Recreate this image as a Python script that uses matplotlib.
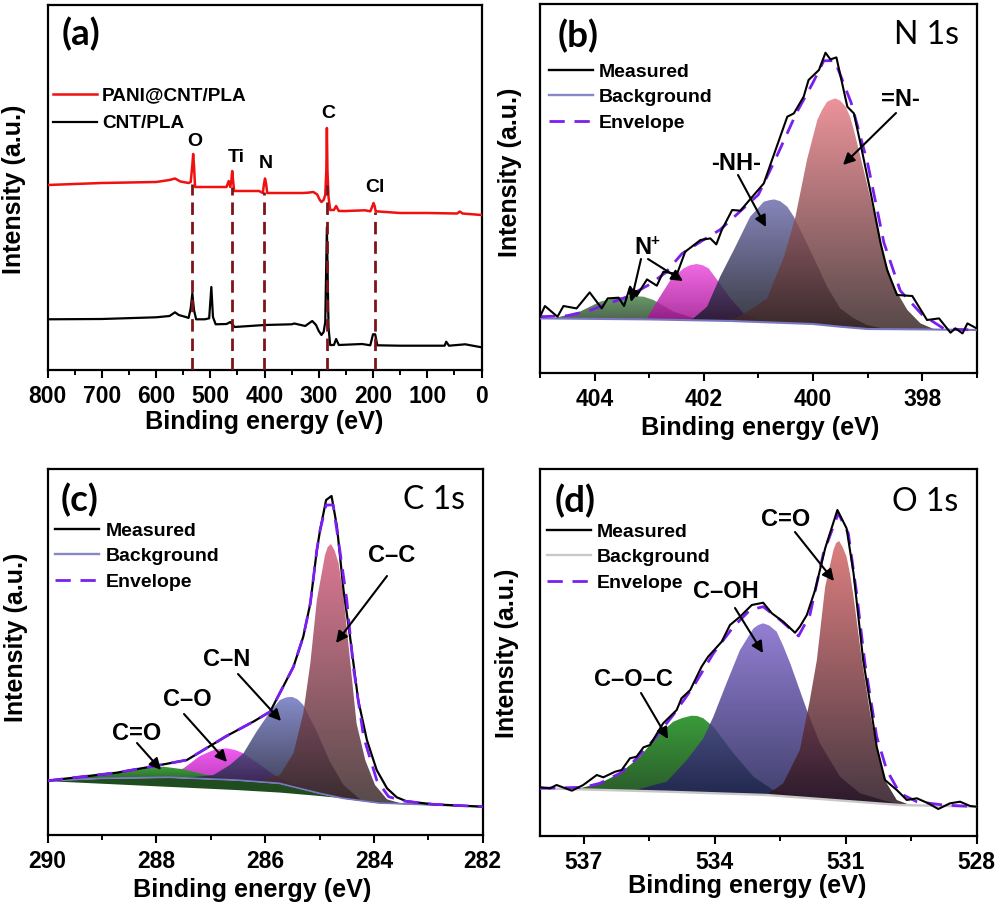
import numpy as np
import matplotlib
matplotlib.use('Agg')
import matplotlib.pyplot as plt
from matplotlib.colors import to_rgb
from matplotlib.lines import Line2D
from matplotlib.patches import FancyArrowPatch

plt.rcParams['font.family'] = ['Liberation Sans', 'DejaVu Sans']
plt.rcParams['font.weight'] = 'bold'

# panel (a) survey spectra, intensity in arbitrary units
red_e = [800, 700, 600, 575, 565, 555, 540, 536, 533, 531.5, 530, 528, 520, 470, 466, 463, 461, 459.5, 458, 456, 440, 410, 403,
         401, 399, 397, 395, 330, 320, 310, 303, 298, 295, 291, 288, 286, 285, 284, 282, 279, 272, 268, 263, 250, 215, 205,
         201, 199, 197, 195, 150, 100, 45, 40, 35, 0]
red_i = [185, 187, 188, 190, 191.5, 188.5, 187, 188, 205, 216, 205, 183, 183, 183, 189, 183, 190, 199, 190, 179, 179, 179, 177,
         186, 191.5, 186, 177, 177, 177.3, 178, 175.6, 170, 168, 170, 175, 200, 242, 200, 173, 160, 160, 164, 159, 159, 159.7, 158.7,
         164, 167, 164, 158.7, 157, 157, 156.5, 158.5, 156.5, 155]
blk_e = [800, 700, 600, 575, 565, 558, 545, 540, 536, 533, 530, 526, 510, 502, 498, 495, 490, 470, 463, 455, 400, 350,
         345, 325, 312, 305, 300, 295, 291, 288, 285, 282, 279, 272, 268, 263, 220, 205, 200, 196, 192, 150, 68, 65, 60, 30, 0]
blk_i = [50.7, 51, 52.7, 54, 57.7, 55, 53, 52, 61.7, 76.7, 60, 50.7, 50.7, 51.7, 83, 53, 45.7, 46, 48, 43, 45, 45.7,
         46.5, 44, 49, 45, 39, 35, 38, 48, 143, 43, 25, 25, 31, 25, 26, 24.7, 35.7, 35.7, 24.7, 24.3, 24.3, 28.3, 24.3, 25.7, 22.7]
guide_e = [534, 460, 401, 284.5, 197]
guide_top = [186, 183, 178, 185, 158]

# panel (b) N 1s
b_meas_e = [405.0, 404.91, 404.68, 404.57, 404.33, 404.09, 403.87, 403.76, 403.56, 403.46, 403.35, 403.23, 403.04, 402.86,
            402.74, 402.49, 402.34, 402.06, 401.88, 401.77, 401.67, 401.48, 401.33, 400.9, 400.75, 400.47, 400.35, 400.17,
            400.08, 399.89, 399.77, 399.68, 399.57, 399.37, 399.25, 399.13, 398.94, 398.76, 398.64, 398.46, 398.18, 397.91,
            397.69, 397.48, 397.39, 397.26, 397.17, 397.0]
b_meas_i = [56, 66.7, 56, 66.7, 64.3, 80.3, 64.3, 74.3, 75, 66.7, 86, 76.7, 93.3, 87, 101, 98.7, 121, 132.7, 134.3, 128.3,
            142.7, 162.7, 162, 189.3, 212.7, 256, 259.3, 276, 292.7, 302.7, 320, 313.3, 315.3, 266, 259.3, 229.3, 179.3,
            129.3, 102.7, 77.7, 76.7, 52.7, 54.3, 40, 44.3, 39.3, 49.3, 44.3]
b_env_e = [405, 404.5, 404.1, 403.8, 403.4, 403, 402.7, 402.4, 402, 401.7, 401.4, 401, 400.7, 400.3, 400, 399.8, 399.6, 399.3,
           399, 398.7, 398.4, 398, 397.6, 397.2, 397]
b_env_i = [56, 57, 62, 68, 76, 88, 100, 119, 133, 143, 158, 178, 212, 260, 290, 312, 312, 270, 210, 130, 82, 58, 44, 43, 43]
b_bg_e = [405, 403, 401.5, 400, 399.5, 399, 398, 397]
b_bg_i = [54.3, 53.3, 51.7, 48.7, 46, 43.7, 43.3, 42.7]
b_green_e = [404.7, 404.27, 403.9, 403.6, 403.3, 403.1, 402.92, 402.55, 402.06]
b_green_i = [55, 61, 71, 75, 76.7, 76, 72.7, 61, 52.5]
b_pink_e = [403.04, 402.86, 402.61, 402.37, 402.25, 402.13, 402.02, 401.91, 401.73, 401.51, 401.27, 400.9]
b_pink_i = [54, 71, 92.7, 104.3, 107.5, 108.7, 107.5, 104.3, 91, 74.3, 59.3, 50.5]
b_blue_e = [402.3, 402.19, 401.94, 401.7, 401.45, 401.15, 400.9, 400.8, 400.71, 400.6, 400.47, 400.35, 400.23, 399.98, 399.74,
            399.5, 399.25, 399.01, 398.7]
b_blue_i = [52.5, 54.3, 66, 96, 122.7, 156, 171, 172.5, 173.3, 171.5, 166, 156, 142.7, 114.3, 86, 64.3, 54.3, 47.7, 44]
b_red_e = [401.6, 401.4, 401.15, 400.84, 400.53, 400.32, 400.11, 399.92, 399.83, 399.74, 399.66, 399.59, 399.5, 399.4, 399.32,
           399.25, 399.07, 398.88, 398.7, 398.52, 398.27, 398.03, 397.78]
b_red_i = [52, 55, 62.7, 74.3, 116, 156, 212.7, 252.7, 263, 271, 273, 274.3, 272, 266, 256, 242.7, 202.7, 159.3, 116, 86, 62.7,
           49.3, 43.5]

# panel (c) C 1s
c_meas_e = [290, 288.73, 287.93, 287.44, 286.71, 286.22, 285.91, 285.67, 285.48, 285.3, 285.17, 285.05, 284.99, 284.88, 284.78,
            284.68, 284.56, 284.44, 284.29, 284.13, 283.95, 283.76, 283.58, 283.4, 282.91, 282]
c_meas_i = [54.3, 62.3, 70, 75, 99, 113.3, 123.3, 148.3, 168.3, 198.3, 231.7, 285, 305, 335, 339, 308.3, 245, 198.3, 135, 95, 65,
            46.7, 37.7, 33.7, 30.7, 28.3]
c_env_e = [290, 288.73, 287.93, 287.44, 286.71, 286.22, 285.91, 285.67, 285.48, 285.3, 285.17, 285.05, 284.99, 284.88, 284.75,
           284.62, 284.5, 284.38, 284.19, 283.95, 283.73, 283.46, 282.91, 282]
c_env_i = [54.3, 62.3, 70, 75, 99, 113.3, 123.3, 148.3, 168.3, 198.3, 231.7, 285, 305, 330, 330, 281.7, 235, 168.3, 98, 55, 38.3,
           34, 30.7, 28.3]
c_bg_e = [290, 289, 287.77, 286.54, 285.74, 285.0, 284.57, 283.9, 282]
c_bg_i = [54.3, 56.7, 57.7, 55, 51.7, 41.7, 36.7, 32, 28.3]
c_low_e = [290, 285.97, 284.75, 284.13, 282]
c_low_i = [54.3, 44, 38.3, 34.3, 28.3]
c_green_e = [289.8, 289.16, 288.73, 288.3, 287.87, 287.5, 287.08, 286.58]
c_green_i = [55.5, 60, 62.7, 66.7, 68.3, 65.7, 60, 55.2]
c_pink_e = [288.2, 287.8, 287.5, 287.2, 286.95, 286.83, 286.71, 286.55, 286.4, 286.09, 285.79, 285.48, 285.17]
c_pink_i = [58, 61, 66.7, 79, 85, 86, 86.7, 85, 81.7, 70, 58.3, 51, 45]
c_blue_e = [287.4, 286.95, 286.65, 286.4, 286.16, 285.91, 285.73, 285.62, 285.51, 285.4, 285.3, 285.05, 284.81, 284.56, 284.25]
c_blue_i = [57.5, 60, 70, 81.7, 103.3, 123.3, 135, 137.5, 138.3, 135.5, 130, 103.3, 73.3, 50, 35.5]
c_red_e = [286.1, 285.73, 285.48, 285.3, 285.17, 285.05, 284.9, 284.85, 284.79, 284.72, 284.65, 284.56, 284.44, 284.32, 284.16,
           283.98, 283.76, 283.5]
c_red_i = [54, 60, 81.7, 121.7, 171.7, 235, 280, 288, 291, 284, 271.7, 238.3, 175, 111.7, 75, 50, 35.7, 31.5]

# panel (d) O 1s
d_meas_e = [538, 537.77, 537.62, 537.27, 537.01, 536.7, 536.55, 536.28, 536.13, 535.94, 535.79, 535.63, 535.48, 535.18,
            534.87, 534.76, 534.56, 534.3, 534.15, 533.84, 533.65, 533.42, 533.15, 532.89, 532.69, 532.43, 532.16, 532.05,
            531.89, 531.7, 531.47, 531.19, 530.98, 530.82, 530.6, 530.44, 530.29, 530.1, 529.83, 529.6, 529.37, 529.11,
            528.88, 528.61, 528.38, 528.15, 528]
d_meas_i = [48.7, 47.7, 51, 45.3, 51, 61, 58.7, 64.3, 66, 77.7, 79.3, 88.7, 91, 112.7, 126, 137.7, 146, 169.3, 179.3, 194.3,
            211, 219.3, 231, 233.3, 222.7, 214.3, 203.3, 209.3, 221, 246, 287.7, 326, 307.7, 262.7, 176, 132.7, 89.3, 56,
            46, 36, 37.7, 32.7, 27, 32.7, 34.3, 30, 29.3]
d_env_e = [538, 537.0, 536.63, 536.17, 535.86, 535.4, 534.95, 534.49, 534.03, 533.57, 533.19, 532.89, 532.5, 532.08, 531.82,
           531.51, 531.17, 530.94, 530.75, 530.56, 530.29, 530.06, 529.76, 529.37, 528.76, 528]
d_env_i = [47.7, 48.7, 52.7, 62.7, 74.3, 96, 121, 149.3, 182.7, 209.3, 226, 229.3, 216, 200, 221, 282.7, 322.7, 302.7, 242.7,
           172.7, 99.3, 66, 42.7, 34.3, 31, 29.3]
d_bg_e = [538, 535.1, 532.81, 531.28, 529.76, 528]
d_bg_i = [47.7, 44.3, 41, 36, 31, 29.3]
d_green_e = [537.2, 536.63, 536.17, 535.71, 535.33, 534.95, 534.74, 534.53, 534.4, 534.26, 534.03, 533.57, 533.11, 532.66, 532.2]
d_green_i = [46.5, 52.7, 62.7, 79.3, 99.3, 114.3, 118, 120.3, 120, 117.7, 109.3, 82.7, 59.3, 46, 40]
d_blue_e = [535.86, 535.1, 534.64, 534.26, 534.03, 533.73, 533.42, 533.25, 533.11, 533.0, 532.89, 532.75, 532.58, 532.43, 532.27,
            531.89, 531.59, 531.13, 530.67, 530.21, 529.8]
d_blue_i = [45.5, 54.3, 76, 97.7, 119.3, 152.7, 186, 198, 207.7, 211, 212.7, 210.5, 204.3, 190, 172.7, 126, 92.7, 59.3, 42.7, 36.7,
            31.5]
d_red_e = [532.81, 532.43, 532.05, 531.82, 531.66, 531.47, 531.28, 531.22, 531.15, 531.07, 530.98, 530.9, 530.82, 530.63, 530.44,
           530.25, 530.06, 529.83, 529.5]
d_red_i = [41, 52.7, 86, 136, 176, 249.3, 286, 293, 295, 289, 279.3, 262, 239.3, 176, 122.7, 79.3, 52.7, 36, 30.5]

purple = '#7a1ff0'
W, H = 1000, 909


def add_panel(left, top, right, bottom):
    ax = fig.add_axes([left / W, 1 - bottom / H, (right - left) / W, (bottom - top) / H])
    ax.set_yticks([])
    for s in ax.spines.values():
        s.set_linewidth(1.6)
    ax.tick_params(axis='x', which='major', length=6, width=1.5, labelsize=16.5, pad=5)
    ax.tick_params(axis='x', which='minor', length=3.5, width=1.4)
    return ax


def put(x, y, s, size=16, **kw):
    # x and y are pixels of the 1000x909 picture
    kw.setdefault('ha', 'center')
    kw.setdefault('va', 'center')
    return fig.text(x / W, 1 - y / H, s, fontsize=size, **kw)


def arrow(x0, y0, x1, y1):
    fig.add_artist(FancyArrowPatch(
        (x0 / W, 1 - y0 / H), (x1 / W, 1 - y1 / H), transform=fig.transFigure,
        arrowstyle='-|>', mutation_scale=17, lw=1.5, color='black', shrinkA=0, shrinkB=0, zorder=20))


def peak(ax, e, i, bg_e, bg_i, top, bottom, alpha=0.85, z=2):
    e = np.array(e)
    i = np.array(i)
    base = np.interp(e[::-1], bg_e[::-1], bg_i[::-1])[::-1]
    poly = ax.fill_between(e, i, base, color='none', lw=0)
    t, b = np.array(to_rgb(top)), np.array(to_rgb(bottom))
    fr = np.linspace(0, 1, 128)[:, None]
    rgb = t * (1 - fr) + b * fr
    rgba = np.dstack([rgb[:, None, :], np.full((128, 1), alpha)])
    im = ax.imshow(rgba, extent=[e.min(), e.max(), min(base.min(), i.min()), i.max()], aspect='auto', zorder=z,
                   interpolation='bilinear')
    im.set_clip_path(poly.get_paths()[0], transform=ax.transData)


def legend_fit(ax, bg_color, anchor):
    handles = [Line2D([], [], color='black', lw=1.7),
               Line2D([], [], color=bg_color, lw=1.7),
               Line2D([], [], color=purple, lw=2, dashes=(5.5, 3.5))]
    ax.legend(handles, ['Measured', 'Background', 'Envelope'], loc='upper left', bbox_to_anchor=anchor,
              frameon=False, fontsize=14, handlelength=2.27, handletextpad=0.31, labelspacing=0.41, borderpad=0,
              borderaxespad=0)


fig = plt.figure(figsize=(W / 100, H / 100), dpi=100)

# (a)
ax = add_panel(47.5, 5, 481.5, 370)
ax.plot(red_e, red_i, color='#f01010', lw=1.8, zorder=3, label='PANI@CNT/PLA')
ax.plot(blk_e, blk_i, color='black', lw=1.6, zorder=3, label='CNT/PLA')
ax.vlines(guide_e, 0, guide_top, color='#7d1518', lw=2, linestyles=(0, (4.5, 2.5)), zorder=4)
ax.set_xlim(800, 0)
ax.set_ylim(0, 365)
ax.set_xticks(range(0, 801, 100))
ax.set_xticks(range(50, 800, 100), minor=True)
ax.legend(loc='upper left', bbox_to_anchor=(0.013, 0.775), frameon=False, fontsize=13.7, handlelength=2.3,
          handletextpad=0.26, labelspacing=0.55, borderpad=0, borderaxespad=0)
put(81, 34, '(a)', 26.5, family='Lato')
put(14, 189, 'Intensity (a.u.)', 18, rotation=90)
put(264, 422, 'Binding energy (eV)', 18.2)
for x, y, s in [(195, 142, 'O'), (236, 157, 'Ti'), (266, 164, 'N'), (328, 113, 'C'), (375, 187, 'Cl')]:
    put(x, y, s, 14)

# (b)
ax = add_panel(540, 4, 976.7, 372.7)
peak(ax, b_green_e, b_green_i, b_bg_e, b_bg_i, '#4e8a4e', '#2e4a2e', z=2)
peak(ax, b_pink_e, b_pink_i, b_bg_e, b_bg_i, '#f050e0', '#a01090', z=3)
peak(ax, b_blue_e, b_blue_i, b_bg_e, b_bg_i, '#7070b0', '#14141e', z=4)
peak(ax, b_red_e, b_red_i, b_bg_e, b_bg_i, '#e88088', '#3a2828', z=5)
ax.plot(b_bg_e, b_bg_i, color='#7a78c0', lw=1.5, zorder=6)
ax.plot(b_env_e, b_env_i, color=purple, lw=2, dashes=(5.5, 3.5), zorder=7)
ax.plot(b_meas_e, b_meas_i, color='black', lw=1.5, zorder=8)
ax.set_xlim(405, 397)
ax.set_ylim(0, 368.7)
ax.set_xticks([404, 402, 400, 398])
ax.set_xticks([405, 403, 401, 399, 397], minor=True)
legend_fit(ax, '#8888c8', (0.0206, 0.84))
put(578, 36, '(b)', 26.5, family='Lato')
put(926, 35, 'N 1s', 23, family='Lato', weight='normal')
put(510, 172, 'Intensity (a.u.)', 18, rotation=90)
put(760, 428, 'Binding energy (eV)', 18.2)
put(900, 99, '=N-', 17)
put(736, 164, '-NH-', 17)
put(643, 248, 'N', 17)
put(655, 241, '+', 11)
arrow(896, 113, 843, 165)
arrow(738, 175, 766, 227)
arrow(641, 259, 631, 302)
arrow(648, 259, 683, 281)

# (c)
ax = add_panel(47.7, 469, 482.7, 835)
ax.fill_between(c_bg_e, c_bg_i, np.interp(c_bg_e[::-1], c_low_e[::-1], c_low_i[::-1])[::-1], color='#1f4d1f', lw=0, zorder=2)
peak(ax, c_pink_e, c_pink_i, c_bg_e, c_bg_i, '#f040f0', '#a010a0', z=3)
peak(ax, c_green_e, c_green_i, c_bg_e, c_bg_i, '#3fa03f', '#2a6a2a', alpha=1, z=3.5)
peak(ax, c_blue_e, c_blue_i, c_bg_e, c_bg_i, '#7078c0', '#14142a', z=4)
peak(ax, c_red_e, c_red_i, c_bg_e, c_bg_i, '#d86080', '#3a2a2a', z=5)
ax.plot(c_bg_e, c_bg_i, color='#7a78c0', lw=1.2, zorder=6)
ax.plot(c_env_e, c_env_i, color=purple, lw=2, dashes=(5.5, 3.5), zorder=7)
ax.plot(c_meas_e, c_meas_i, color='black', lw=1.6, zorder=6.5)
ax.set_xlim(290, 282)
ax.set_ylim(0, 366)
ax.set_xticks([290, 288, 286, 284, 282])
ax.set_xticks([289, 287, 285, 283], minor=True)
legend_fit(ax, '#8888c8', (0.017, 0.855))
put(80, 500, '(c)', 26.5, family='Lato')
put(434, 500, 'C 1s', 23, family='Lato', weight='normal')
put(16, 637, 'Intensity (a.u.)', 18, rotation=90)
put(252, 890, 'Binding energy (eV)', 18.2)
put(392, 556, 'C–C', 17)
put(227, 660, 'C–N', 17)
put(187, 699, 'C–O', 17)
put(137, 733, 'C=O', 17)
arrow(387, 576, 336, 643)
arrow(238, 674, 281, 721)
arrow(184, 714, 227, 762)
arrow(137, 743, 161, 770)

# (d)
ax = add_panel(540, 469, 976.7, 836)
peak(ax, d_green_e, d_green_i, d_bg_e, d_bg_i, '#3a9c3a', '#2a5a2a', alpha=1, z=2)
peak(ax, d_blue_e, d_blue_i, d_bg_e, d_bg_i, '#8068cc', '#1c1c50', z=3)
peak(ax, d_red_e, d_red_i, d_bg_e, d_bg_i, '#d86868', '#281420', z=4)
ax.plot(d_bg_e, d_bg_i, color='#c8c8c8', lw=1.7, zorder=5)
ax.plot(d_env_e, d_env_i, color=purple, lw=2, dashes=(5.5, 3.5), zorder=6)
ax.plot(d_meas_e, d_meas_i, color='black', lw=1.5, zorder=7)
ax.set_xlim(538, 528)
ax.set_ylim(0, 367)
ax.set_xticks([537, 534, 531, 528])
ax.set_xticks([535.5, 532.5, 529.5], minor=True)
legend_fit(ax, '#c8c8c8', (0.015, 0.853))
put(575, 501, '(d)', 26.5, family='Lato')
put(925, 502, 'O 1s', 23, family='Lato', weight='normal')
put(507, 653, 'Intensity (a.u.)', 18, rotation=90)
put(747, 886, 'Binding energy (eV)', 18.2)
put(786, 520, 'C=O', 17)
put(726, 591, 'C–OH', 17)
put(633, 680, 'C–O–C', 17)
arrow(795, 532, 834, 581)
arrow(735, 608, 763, 653)
arrow(641, 693, 668, 739)

fig.savefig('out.png', dpi=100)
